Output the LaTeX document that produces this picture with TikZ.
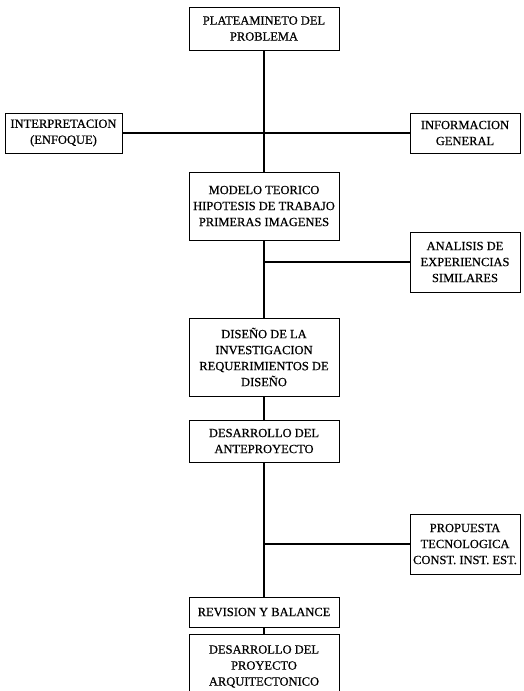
\documentclass[tikz,border=0pt]{standalone}
\usepackage{fontspec}
\setmainfont{Liberation Serif}[FakeBold=0.6]
\begin{document}
\begin{tikzpicture}[x=1pt,y=-1pt,
  box/.style={draw,line width=0.9pt,align=center,inner sep=2pt,font=\fontsize{12.5}{16}\selectfont},
  link/.style={line width=1.1pt}]
\useasboundingbox (0,0) rectangle (524,691);
\node[box,minimum width=150,minimum height=43] (p) at (264,28.5) {PLATEAMINETO DEL\\PROBLEMA};
\node[box,minimum width=117,minimum height=40] (i) at (63.5,133) {INTERPRETACION\\(ENFOQUE)};
\node[box,minimum width=110,minimum height=40] (g) at (465,133) {INFORMACION\\GENERAL};
\node[box,minimum width=150,minimum height=68] (m) at (264,206) {MODELO TEORICO\\HIPOTESIS DE TRABAJO\\PRIMERAS IMAGENES};
\node[box,minimum width=110,minimum height=60] (a) at (465,262) {ANALISIS DE\\EXPERIENCIAS\\SIMILARES};
\node[box,minimum width=150,minimum height=78] (d) at (264,357) {DISEÑO DE LA\\INVESTIGACION\\REQUERIMIENTOS DE\\DISEÑO};
\node[box,minimum width=150,minimum height=42] (ap) at (264,441) {DESARROLLO DEL\\ANTEPROYECTO};
\node[box,minimum width=110,minimum height=60] (t) at (465,544) {PROPUESTA\\TECNOLOGICA\\CONST. INST. EST.};
\node[box,minimum width=150,minimum height=30] (r) at (264,612) {REVISION Y BALANCE};
\node[box,minimum width=150,minimum height=64,anchor=north] (f) at (264,634) {DESARROLLO DEL\\PROYECTO\\ARQUITECTONICO};
\coordinate (j2) at (m.south |- a.west);
\coordinate (j3) at (ap.south |- t.west);
\draw[link] (p.south) -- (m.north);
\draw[link] (i.east) -- (g.west);
\draw[link] (m.south) -- (d.north);
\draw[link] (j2) -- (a.west);
\draw[link] (d.south) -- (ap.north);
\draw[link] (ap.south) -- (r.north);
\draw[link] (j3) -- (t.west);
\draw[link] (r.south) -- (f.north);
\end{tikzpicture}
\end{document}
